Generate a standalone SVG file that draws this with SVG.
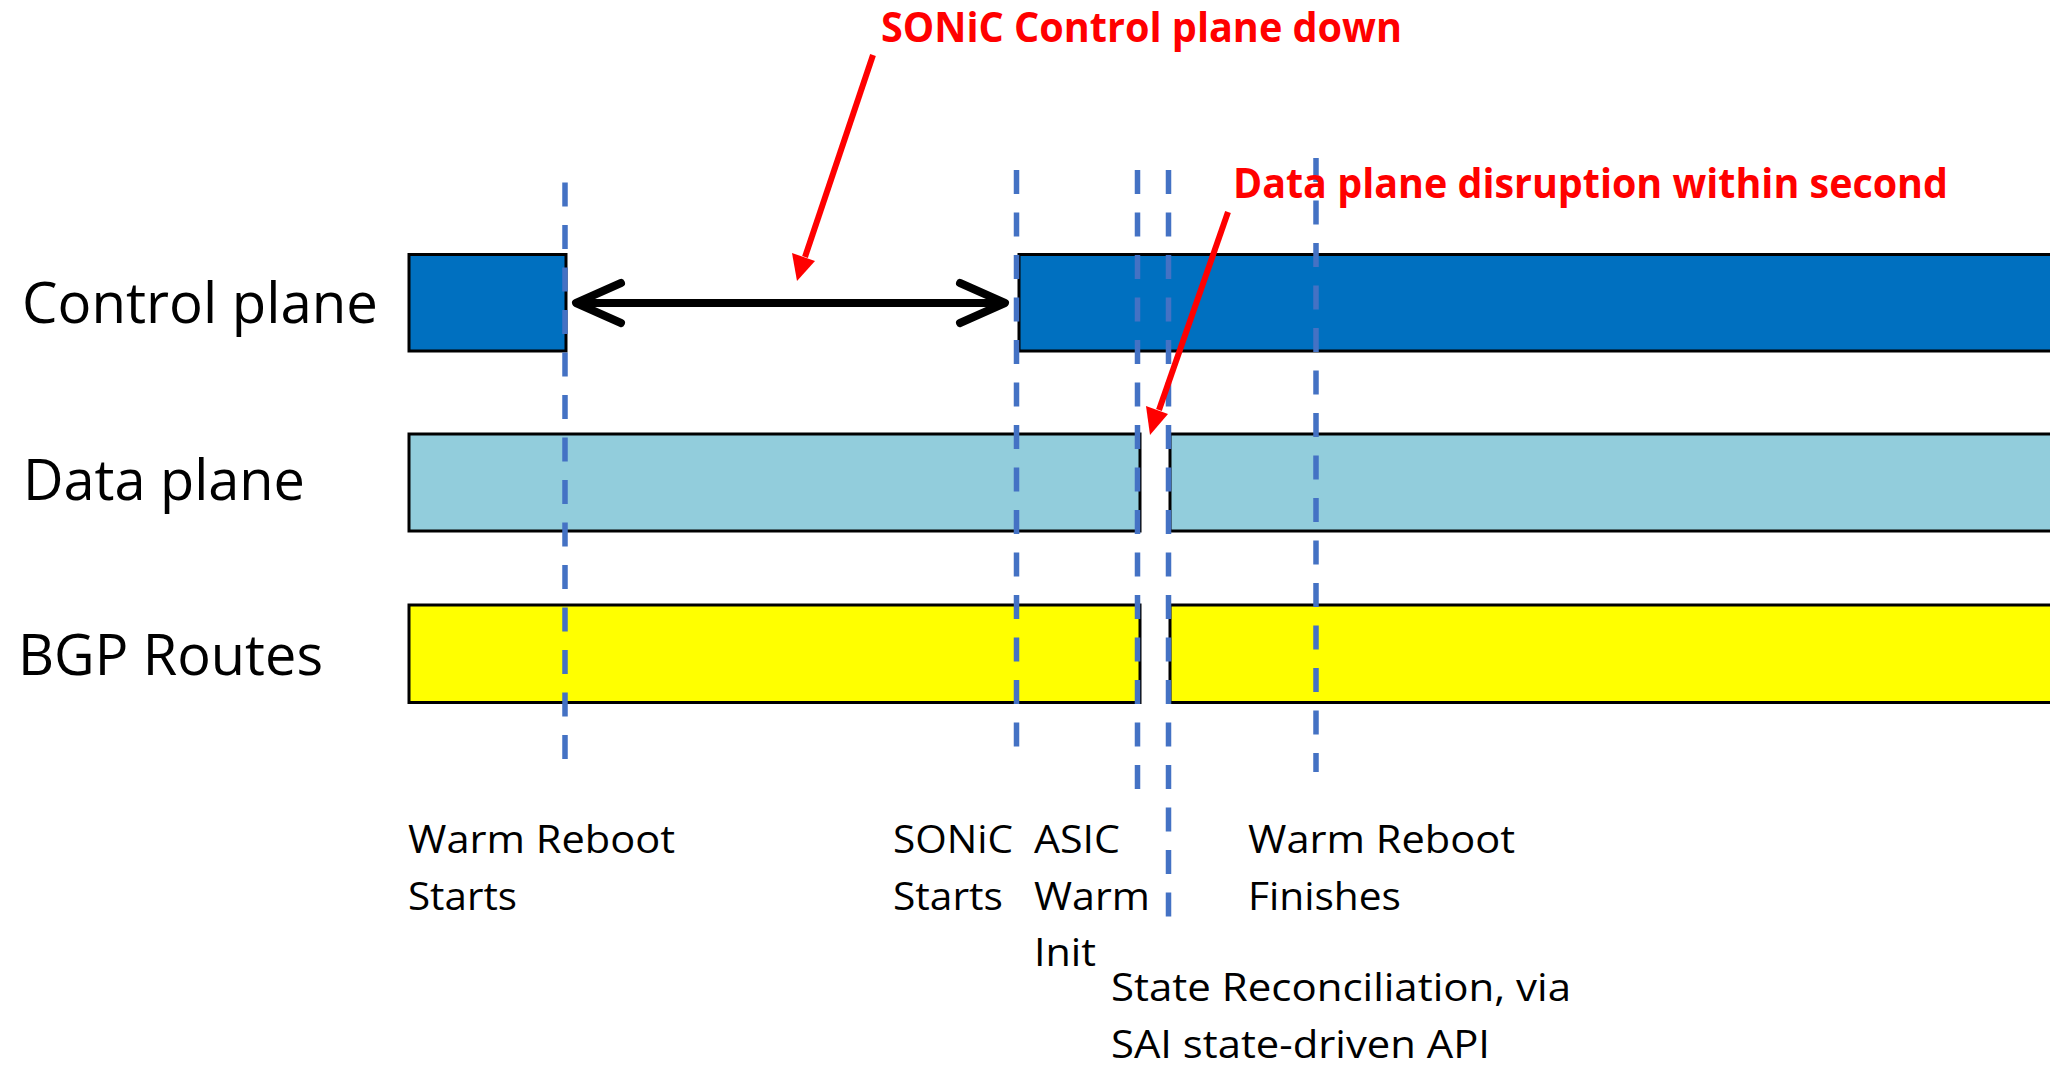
<svg xmlns="http://www.w3.org/2000/svg" width="2050" height="1066" viewBox="0 0 2050 1066">
<style>
.box{stroke:#000;stroke-width:3}
.cp{fill:#0070C0}
.dp{fill:#92CDDC}
.bgp{fill:#FFFF00}
.lbl{font-family:"Open Sans","Liberation Sans",sans-serif;fill:#000}
.big{font-size:56px}
.sm{font-size:39px}
.red{font-family:"Open Sans","Liberation Sans",sans-serif;font-weight:700;font-size:41px;fill:#FF0000}
.dash{stroke:#4472C4;stroke-width:5.5;stroke-dasharray:24 18.5;fill:none}
.redline{stroke:#FF0000;stroke-width:6;fill:none}
.dbl{stroke:#000;stroke-width:8;stroke-linecap:round;stroke-linejoin:round;fill:none}
</style>
<rect width="2050" height="1066" fill="#fff"/>
<g id="row-labels">
<text class="lbl big" x="22" y="323" textLength="356" lengthAdjust="spacingAndGlyphs">Control plane</text>
<text class="lbl big" x="23" y="500" textLength="282" lengthAdjust="spacingAndGlyphs">Data plane</text>
<text class="lbl big" x="18" y="675" textLength="305" lengthAdjust="spacingAndGlyphs">BGP Routes</text>
</g>
<g id="control-plane">
<rect class="box cp" x="409" y="254.5" width="157" height="96.5"/>
<rect class="box cp" x="1019" y="254.5" width="1045" height="96.5"/>
</g>
<g id="data-plane">
<rect class="box dp" x="409" y="434" width="731" height="97"/>
<rect class="box dp" x="1170" y="434" width="894" height="97"/>
</g>
<g id="bgp-routes">
<rect class="box bgp" x="409" y="605" width="731" height="97.5"/>
<rect class="box bgp" x="1170" y="605" width="894" height="97.5"/>
</g>
<g id="connectors">
<line class="dash" x1="565" y1="182.5" x2="565" y2="759"/>
<line class="dash" x1="1016.5" y1="170" x2="1016.5" y2="747"/>
<line class="dash" x1="1137.5" y1="170" x2="1137.5" y2="789"/>
<line class="dash" x1="1168.5" y1="170" x2="1168.5" y2="917"/>
<line class="dash" x1="1316" y1="158" x2="1316" y2="772"/>
<g id="downtime-arrow">
<line class="dbl" x1="578" y1="303" x2="1003" y2="303"/>
<polyline class="dbl" points="621,283 576,303 621,323"/>
<polyline class="dbl" points="960,283 1005,303 960,323"/>
</g>
<g id="callout-arrow-1">
<line class="redline" x1="873" y1="55" x2="805" y2="257"/>
<polygon fill="#FF0000" points="797,281 792,253 815,261"/>
</g>
<g id="callout-arrow-2">
<line class="redline" x1="1228" y1="212" x2="1159" y2="410"/>
<polygon fill="#FF0000" points="1150,435 1146,406 1168,414"/>
</g>
</g>
<g id="callouts">
<text class="red" x="881" y="42" textLength="521" lengthAdjust="spacingAndGlyphs">SONiC Control plane down</text>
<text class="red" x="1233" y="198" textLength="715" lengthAdjust="spacingAndGlyphs">Data plane disruption within second</text>
</g>
<g id="event-warm-reboot-starts">
<text class="lbl sm" x="408" y="853" textLength="267" lengthAdjust="spacingAndGlyphs">Warm Reboot</text>
<text class="lbl sm" x="408" y="910" textLength="109" lengthAdjust="spacingAndGlyphs">Starts</text>
</g>
<g id="event-sonic-starts">
<text class="lbl sm" x="893" y="853" textLength="120" lengthAdjust="spacingAndGlyphs">SONiC</text>
<text class="lbl sm" x="893" y="910" textLength="110" lengthAdjust="spacingAndGlyphs">Starts</text>
</g>
<g id="event-asic-warm-init">
<text class="lbl sm" x="1034" y="853" textLength="86" lengthAdjust="spacingAndGlyphs">ASIC</text>
<text class="lbl sm" x="1034" y="910" textLength="116" lengthAdjust="spacingAndGlyphs">Warm</text>
<text class="lbl sm" x="1034" y="966" textLength="62" lengthAdjust="spacingAndGlyphs">Init</text>
</g>
<g id="event-state-reconciliation">
<text class="lbl sm" x="1111" y="1001" textLength="460" lengthAdjust="spacingAndGlyphs">State Reconciliation, via</text>
<text class="lbl sm" x="1111" y="1058" textLength="379" lengthAdjust="spacingAndGlyphs">SAI state-driven API</text>
</g>
<g id="event-warm-reboot-finishes">
<text class="lbl sm" x="1248" y="853" textLength="267" lengthAdjust="spacingAndGlyphs">Warm Reboot</text>
<text class="lbl sm" x="1248" y="910" textLength="153" lengthAdjust="spacingAndGlyphs">Finishes</text>
</g>
</svg>
